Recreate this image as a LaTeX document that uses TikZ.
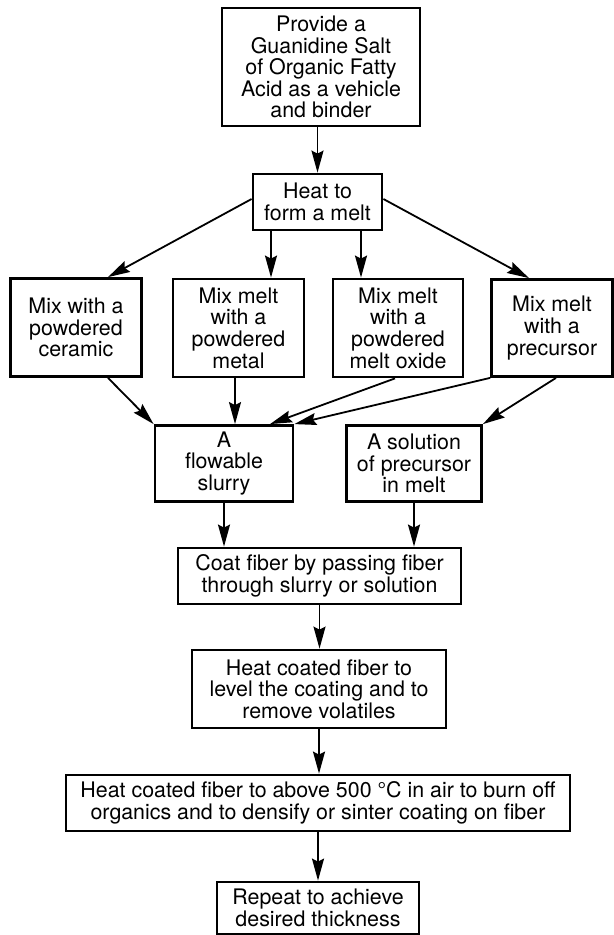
\documentclass[tikz,border=0pt]{standalone}
\usepackage{fontspec}
\setmainfont{TeX Gyre Heros}
\usetikzlibrary{arrows.meta}
\begin{document}
\begin{tikzpicture}[>={Stealth[length=11pt,width=6pt,inset=1.5pt]},x=0.5pt,y=-0.5pt,
	box/.style={draw,line width=1.4pt,align=center,inner sep=0pt,font=\fontsize{10.7}{10.8}\selectfont},
	flow/.style={->,line width=0.9pt}]
	\useasboundingbox (0,0) rectangle (614,935); % page size of the figure
	\node[box,minimum width=99pt,minimum height=59pt] (top) at (321,67) {Provide a\\Guanidine Salt\\of Organic Fatty\\Acid as a vehicle\\and binder};
	\node[box,minimum width=64.5pt,minimum height=28pt] (heat) at (317.5,202) {Heat to\\form a melt};
	\node[box,minimum width=65.5pt,minimum height=49pt] (mixA) at (76,327.5) {Mix with a\\powdered\\ceramic};
	\node[box,minimum width=65.5pt,minimum height=49pt] (mixB) at (238.5,328) {Mix melt\\with a\\powdered\\metal};
	\node[box,minimum width=65pt,minimum height=49pt] (mixC) at (398,328) {Mix melt\\with a\\powdered\\melt oxide};
	\node[box,minimum width=60.5pt,minimum height=48.5pt] (mixD) at (552,328) {Mix melt\\with a\\precursor};
	\node[box,minimum width=69pt,minimum height=38pt] (slurry) at (224,463.5) {A\\flowable\\slurry};
	\node[box,minimum width=67.5pt,minimum height=38pt] (sol) at (414,463.5) {A solution\\of precursor\\in melt};
	\node[box,minimum width=141.5pt,minimum height=28pt] (coat) at (319.5,576) {Coat fiber by passing fiber\\through slurry or solution};
	\node[box,minimum width=127pt,minimum height=39pt] (level) at (319,689) {Heat coated fiber to\\level the coating and to\\remove volatiles};
	\node[box,minimum width=252pt,minimum height=28pt] (burn) at (318,803) {Heat coated fiber to above 500 °C in air to burn off\\organics and to densify or sinter coating on fiber};
	\node[box,minimum width=101pt,minimum height=26pt] (rep) at (318,908) {Repeat to achieve\\desired thickness};
	% melt and the four mixes
	\draw[flow] (top.south -| heat.north) -- (heat.north);
	\draw[flow] ([yshift=1.5pt]heat.west) -- ([xshift=16pt]mixA.north);
	\draw[flow] ([xshift=-23.25pt]heat.south) -- ([xshift=16.25pt]mixB.north);
	\draw[flow] ([xshift=21.75pt]heat.south) -- ([xshift=-18.5pt]mixC.north);
	\draw[flow] ([yshift=1.5pt]heat.east) -- ([xshift=-11.5pt]mixD.north);
	% slurry or solution
	\draw[flow] ([xshift=16pt]mixA.south) -- (slurry.north west);
	\draw[flow] ([xshift=-1.75pt]mixB.south) -- ([xshift=5.5pt]slurry.north);
	\draw[flow] ([xshift=-1.5pt]mixC.south) -- ([xshift=23pt]slurry.north);
	\draw[flow] (mixD.south west) -- (slurry.north east);
	\draw[flow] ([xshift=2pt]mixD.south) -- (sol.north east);
	\draw[flow] (slurry.south) -- (slurry.south |- coat.north);
	\draw[flow] (sol.south) -- (sol.south |- coat.north);
	\draw[flow] (coat.south) -- (coat.south |- level.north);
	\draw[flow] (level.south) -- (level.south |- burn.north);
	\draw[flow] (burn.south) -- (burn.south |- rep.north);
\end{tikzpicture}
\end{document}
